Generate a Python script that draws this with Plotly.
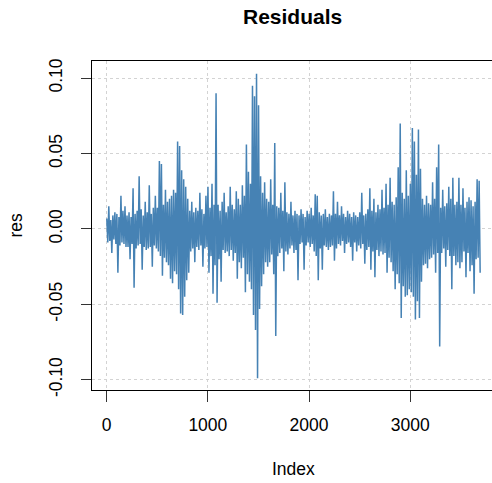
import plotly.graph_objects as go

# Residual values, in thousandths, one value every 10 indices
res_thousandths = [
    7, -9, 15, -8, 6, -16, 9, -7, 11, -10,
    10, -29, 8, -11, 22, -9, 12, -10, 15, -12,
    9, -12, 11, -20, 8, -10, 27, -39, 10, -13,
    12, -11, 35, -10, 13, -27, 9, -12, 18, -14,
    11, -13, 29, -12, 10, -25, 14, -11, 22, -13,
    14, -15, 45, -18, 43, -31, 16, -19, 26, -22,
    18, -24, 20, -33, 22, -36, 26, -28, 24, -30,
    58, -40, 55, -56, 39, -57, 33, -45, 28, -34,
    20, -29, 12, -15, 18, -13, 11, -22, 14, -12,
    12, -14, 24, -11, 13, -25, 10, -13, 22, -12,
    28, -29, 14, -18, 30, -43, 16, -24, 90, -49,
    16, -20, 12, -35, 18, -14, 24, -16, 11, -15,
    15, -18, 28, -14, 16, -21, 13, -16, 25, -33,
    20, -22, 16, -26, 29, -19, 22, -42, 56, -30,
    38, -35, 30, -40, 95, -57, 88, -67, 103, -99,
    82, -53, 35, -38, 24, -30, 31, -22, 20, -25,
    18, -22, 33, -17, 16, -30, 57, -71, 15, -18,
    14, -16, 24, -13, 12, -28, 31, -15, 11, -17,
    10, -13, 18, -11, 9, -16, 12, -14, 10, -34,
    9, -10, 13, -9, 10, -27, 8, -11, 12, -9,
    10, -12, 14, -10, 9, -15, 23, -18, 22, -34,
    11, -13, 9, -27, 10, -11, 13, -12, 8, -14,
    10, -12, 9, -11, 25, -21, 10, -13, 18, -10,
    9, -11, 15, -8, 10, -16, 8, -10, 12, -9,
    10, -12, 8, -21, 11, -9, 9, -15, 8, -11,
    11, -13, 24, -10, 9, -23, 10, -14, 13, -12,
    27, -27, 12, -15, 20, -32, 11, -14, 16, -18,
    13, -15, 26, -17, 14, -16, 30, -29, 16, -19,
    34, -22, 18, -28, 16, -40, 21, -30, 41, -36,
    70, -59, 24, -38, 20, -45, 39, -44, 22, -40,
    30, -42, 67, -45, 58, -60, 36, -48, 66, -59,
    40, -35, 20, -24, 16, -23, 22, -26, 17, -20,
    16, -19, 31, -17, 20, -29, 41, -16, 56, -78,
    14, -16, 26, -13, 15, -25, 17, -14, 28, -18,
    20, -40, 34, -18, 16, -24, 18, -22, 34, -26,
    16, -22, 27, -15, 14, -32, 18, -16, 21, -28,
    19, -24, 15, -43, 18, -20, 33, -19, 32, -29,
]
res = [v / 1000 for v in res_thousandths]
index = list(range(1, 1 + 10 * len(res), 10))

x_ticks = [0, 1000, 2000, 3000]
x_tick_labels = ["0", "1000", "2000", "3000"]
y_ticks = [-0.10, -0.05, 0.00, 0.05, 0.10]
y_tick_labels = ["-0.10", "-0.05", "0.00", "0.05", "0.10"]

FONT = "Liberation Sans, Arial, sans-serif"

fig = go.Figure()
fig.add_trace(go.Scatter(
    x=index, y=res, mode="lines",
    line=dict(color="#4682B4", width=1.5),
    hoverinfo="skip", showlegend=False,
))

fig.update_layout(
    width=492, height=483,
    margin=dict(l=92, r=0, t=61, b=93, pad=0),
    paper_bgcolor="white", plot_bgcolor="white",
    font=dict(family=FONT, size=17.5, color="#000000"),
    showlegend=False,
    xaxis=dict(
        range=[-145, 3808],
        tickmode="array", tickvals=x_ticks, ticktext=x_tick_labels,
        ticks="outside", ticklen=11, tickwidth=1, tickcolor="#333333",
        showline=True, linecolor="#000000", linewidth=1, mirror=True,
        showgrid=True, gridcolor="#D3D3D3", gridwidth=1, griddash="dot",
        zeroline=False, ticklabelstandoff=8,
        tickfont=dict(family=FONT, size=17.5, color="#000000"),
    ),
    yaxis=dict(
        range=[-0.1068, 0.1114],
        tickmode="array", tickvals=y_ticks, ticktext=y_tick_labels,
        ticks="outside", ticklen=10, tickwidth=1, tickcolor="#333333",
        showline=True, linecolor="#000000", linewidth=1, mirror=False,
        showgrid=True, gridcolor="#D3D3D3", gridwidth=1, griddash="dot",
        zeroline=False, tickangle=-90, ticklabelstandoff=12,
        tickfont=dict(family=FONT, size=17.5, color="#000000"),
    ),
    annotations=[
        dict(text="<b>Residuals</b>", xref="paper", yref="paper", x=0.5, y=1,
             xanchor="center", yanchor="middle", xshift=0, yshift=45,
             showarrow=False, font=dict(family=FONT, size=21, color="#000000")),
        dict(text="Index", xref="paper", yref="paper", x=0.5, y=0,
             xanchor="center", yanchor="middle", xshift=1, yshift=-79,
             showarrow=False, font=dict(family=FONT, size=17.5, color="#000000")),
        dict(text="res", xref="paper", yref="paper", x=0, y=0.5,
             xanchor="center", yanchor="middle", xshift=-77, textangle=-90,
             showarrow=False, font=dict(family=FONT, size=17.5, color="#000000")),
    ],
)

# Remove the browser's default 8px body margin so the figure sits at the page corner
fig.write_html(
    "out.html",
    config={"displayModeBar": False, "staticPlot": True},
    post_script="document.body.style.margin='0';",
)
